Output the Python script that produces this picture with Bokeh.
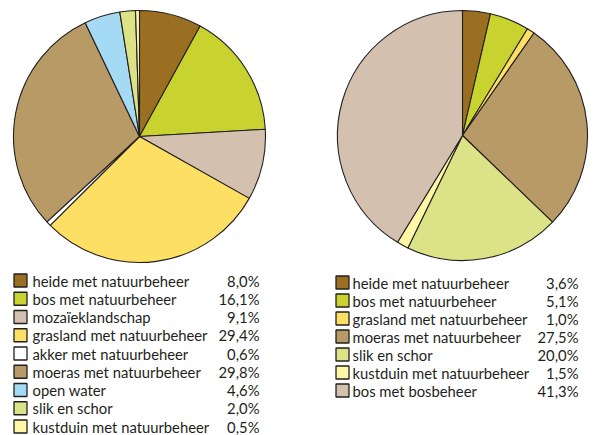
import numpy as np
from bokeh.plotting import figure
from bokeh.models import Range1d, ColumnDataSource
from bokeh.core.properties import value
from bokeh.embed import file_html
from bokeh.resources import INLINE

# Left pie data
left_labels = ["heide met natuurbeheer", "bos met natuurbeheer", "mozaïeklandschap",
               "grasland met natuurbeheer", "akker met natuurbeheer", "moeras met natuurbeheer",
               "open water", "slik en schor", "kustduin met natuurbeheer"]
left_values = [8.0, 16.1, 9.1, 29.4, 0.6, 29.8, 4.6, 2.0, 0.5]
left_colors = ["#9a6f22", "#c8d32f", "#d4c0ae", "#fddf63", "#ffffff", "#b79a66",
               "#a4daf3", "#dce286", "#fff6a6"]

# Right pie data
right_labels = ["heide met natuurbeheer", "bos met natuurbeheer", "grasland met natuurbeheer",
                "moeras met natuurbeheer", "slik en schor", "kustduin met natuurbeheer",
                "bos met bosbeheer"]
right_values = [3.6, 5.1, 1.0, 27.5, 20.0, 1.5, 41.3]
right_colors = ["#9a6f22", "#c8d32f", "#fddf63", "#b79a66", "#dce286", "#fff6a6", "#d4c0ae"]

W, H = 593, 435
p = figure(width=W, height=H, output_backend="svg", toolbar_location=None,
           x_range=Range1d(0, W), y_range=Range1d(0, H), min_border=0)
p.axis.visible = False
p.grid.visible = False
p.outline_line_color = None
p.background_fill_color = "white"

FONT = "Lato"
EDGE = "#231f20"

def fmt(v):
    return ("%.1f" % v).replace(".", ",") + "%"

def pie(cx, cy, r, values, colors):
    vals = np.array(values, dtype=float)
    frac = vals / vals.sum()
    cum = np.concatenate([[0.0], np.cumsum(frac)])
    start = np.pi / 2 - 2 * np.pi * cum[:-1]
    end = np.pi / 2 - 2 * np.pi * cum[1:]
    src = ColumnDataSource(dict(start=start, end=end, color=colors))
    p.wedge(x=cx, y=H - cy, radius=r, start_angle="start", end_angle="end",
            direction="clock", fill_color="color", line_color=EDGE, line_width=1.1,
            source=src)

def legend(x_sq, x_txt, x_pct, y0, step, labels, values, colors):
    n = len(labels)
    ys = [H - (y0 + i * step) for i in range(n)]
    src = ColumnDataSource(dict(y=ys, lab=labels, pct=[fmt(v) for v in values], color=colors))
    p.rect(x=x_sq, y="y", width=13, height=13, fill_color="color", line_color=EDGE,
           line_width=1.3, source=src)
    p.text(x=x_txt, y="y", text="lab", text_font=value(FONT), text_font_size="14.8px",
           text_baseline="middle", text_align="left", text_color="#231f20", source=src)
    p.text(x=x_pct, y="y", text="pct", text_font=value(FONT), text_font_size="14.8px",
           text_baseline="middle", text_align="right", text_color="#231f20", source=src)

pie(139, 136, 126, left_values, left_colors)
pie(462, 135, 125, right_values, right_colors)

legend(20, 32, 259, 280, 18.25, left_labels, left_values, left_colors)
legend(342, 352, 578, 282, 18.0, right_labels, right_values, right_colors)

open("out.html", "w").write(file_html(p, INLINE))
